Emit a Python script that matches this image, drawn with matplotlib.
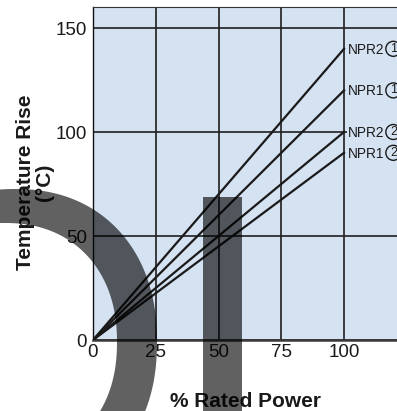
import numpy as np
import matplotlib
matplotlib.use('Agg')
import matplotlib.pyplot as plt
from matplotlib.path import Path
from matplotlib.patches import PathPatch, Rectangle

plt.rcParams['font.family'] = ['Liberation Sans', 'DejaVu Sans']

# data
power = [0, 100]
series = ['NPR2', 'NPR1', 'NPR2', 'NPR1']
marks = ['1', '1', '2', '2']
rise_at_full = [140, 120, 100, 90]

x_ticks = [0, 25, 50, 75, 100]
y_ticks = [0, 50, 100, 150]

bg = '#d5e2f2'
W, H = 397, 411
fig = plt.figure(figsize=(W / 100, H / 100), dpi=100)
ax = fig.add_axes([93 / W, 71 / H, 1 - 93 / W, 333 / H])
ax.set_facecolor(bg)
ax.set_xticks(x_ticks + [125])
ax.set_xticklabels([str(v) for v in x_ticks] + [''])
ax.set_yticks(y_ticks)
ax.set_xlim(0, 121.1)
ax.set_ylim(0, 160.1)
ax.grid(True, color='#1e1e1e', lw=1.2)
ax.set_axisbelow(True)
ax.tick_params(axis='both', length=0, labelsize=13.5, colors='#1a1a1a')
ax.tick_params(axis='y', pad=4.3)
ax.tick_params(axis='x', pad=3.2)

ax.spines['left'].set_color('#111111')
ax.spines['left'].set_linewidth(1.0)
ax.spines['bottom'].set_color('#3a3a3a')
ax.spines['bottom'].set_linewidth(1.8)
ax.spines['top'].set_color('#333333')
ax.spines['top'].set_linewidth(0.8)
ax.spines['right'].set_visible(False)

for name, m, r in zip(series, marks, rise_at_full):
    ax.plot(power, [0, r], color='#1a1a1a', lw=1.6, zorder=3)
    ax.annotate(name, xy=(power[-1], r), xytext=(3, -3.5),
                textcoords='offset points', ha='left', va='baseline',
                fontsize=9.8, color='#1a1a1a', annotation_clip=False,
                bbox=dict(boxstyle='square,pad=0.12', fc=bg, ec='none'))
    ax.annotate(m, xy=(power[-1], r), xytext=(35.5, 0),
                textcoords='offset points', ha='center', va='center',
                fontsize=9, color='#1a1a1a', annotation_clip=False,
                bbox=dict(boxstyle='circle,pad=0.12', fc=bg,
                          ec='#1a1a1a', lw=1.0))

fig.text(245 / W, 1 - 401 / H, '% Rated Power', ha='center', va='center',
         fontsize=15, fontweight='bold', color='#1a1a1a')
fig.text(35 / W, 1 - 182 / H, 'Temperature Rise\n(°C)', rotation=90,
         ha='center', va='center', multialignment='center', linespacing=0.95,
         fontsize=15, fontweight='bold', color='#1a1a1a')


# grey watermark over the picture
def blob(cx, cy, rx, ry, n, reverse=False):
    t = np.linspace(0, 2 * np.pi, 200)
    c, s = np.cos(t), np.sin(t)
    px = cx + rx * np.sign(c) * np.abs(c) ** (2 / n)
    py = cy + ry * np.sign(s) * np.abs(s) ** (2 / n)
    pts = np.column_stack([px / 100, (H - py) / 100])
    if reverse:
        pts = pts[::-1]
    return pts


outer = blob(15, 342, 142, 153, 2.2)
inner = blob(5, 342, 112, 119, 2.2, reverse=True)
verts = np.vstack([outer, outer[:1], inner, inner[:1]])
codes = ([Path.MOVETO] + [Path.LINETO] * (len(outer) - 1) + [Path.CLOSEPOLY] +
         [Path.MOVETO] + [Path.LINETO] * (len(inner) - 1) + [Path.CLOSEPOLY])
ring = PathPatch(Path(verts, codes), transform=fig.dpi_scale_trans,
                 fc='black', ec='none', alpha=0.62, zorder=10)
fig.add_artist(ring)
bar = Rectangle((203 / 100, -0.1), 39 / 100, (H - 197) / 100 + 0.1,
                transform=fig.dpi_scale_trans, fc='black', ec='none',
                alpha=0.62, zorder=10)
fig.add_artist(bar)

fig.savefig('out.png', dpi=100)
